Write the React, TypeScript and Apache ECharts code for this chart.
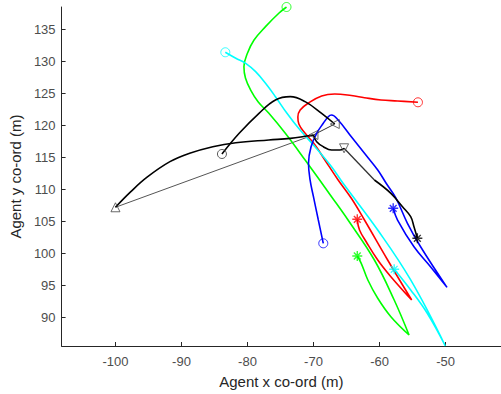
import React, { useEffect, useRef } from "react";
import * as echarts from "echarts";

const xTicks = [-100, -90, -80, -70, -60, -50];
const yTicks = [90, 95, 100, 105, 110, 115, 120, 125, 130, 135];

const redPath: [number, number][] = [
  [-54.18, 123.63], [-57.27, 123.84], [-59.78, 123.99], [-62.28, 124.35], [-64.27, 124.69],
  [-66.78, 124.93], [-68.77, 124.62], [-70.76, 123.52], [-72.02, 122.43], [-72.37, 121.34],
  [-72.22, 120.24], [-71.27, 118.79], [-69.77, 116.96], [-68.28, 114.62], [-66.27, 111.5],
  [-64.27, 108.64], [-62.28, 105.25], [-58.77, 99.01], [-55.13, 92.76], [-58.28, 96.4],
  [-60.27, 99.01], [-62.02, 101.86], [-63.03, 103.69], [-63.37, 105.36],
];

const greenPath: [number, number][] = [
  [-74.09, 138.51], [-75.26, 137.53], [-77.27, 135.44], [-79.01, 133.36], [-80.01, 131.28],
  [-80.54, 129.19], [-80.31, 127.43], [-79.52, 125.55], [-78.37, 123.68], [-76.76, 121.91],
  [-74.27, 118.79], [-71.27, 114.62], [-67.27, 108.89], [-64.77, 105.25], [-60.78, 99.01],
  [-57.78, 92.76], [-55.53, 87.3], [-58.28, 90.15], [-60.27, 93.03], [-61.77, 95.89],
  [-62.77, 98.49], [-63.37, 99.63],
];

const cyanPath: [number, number][] = [
  [-83.36, 131.44], [-81.77, 130.5], [-80.27, 129.72], [-78.77, 128.41], [-77.27, 126.6],
  [-75.77, 124.51], [-74.02, 121.91], [-72.26, 119.57], [-69.78, 116.7], [-67.27, 113.58],
  [-65.52, 110.98], [-60.27, 103.69], [-55.28, 95.89], [-50.03, 85.58], [-52.77, 90.68],
  [-55.28, 94.33], [-57.78, 97.56],
];

const bluePath: [number, number][] = [
  [-68.52, 101.61], [-69.27, 105.25], [-70.01, 108.89], [-70.52, 111.5], [-70.76, 114.11],
  [-70.37, 116.7], [-69.52, 118.79], [-68.52, 120.35], [-67.77, 121.38], [-67.27, 121.65],
  [-66.27, 120.87], [-64.27, 118.26], [-62.28, 115.67], [-60.27, 113.06], [-59.02, 111.03],
  [-57.53, 108.69], [-55.77, 104.74], [-53.78, 101.08], [-49.78, 94.74], [-52.28, 97.96],
  [-54.78, 101.08], [-57.27, 105.25], [-57.93, 107.08],
];

const blackRise: [number, number][] = [
  [-83.87, 115.56], [-81.26, 118.79], [-78.26, 121.91], [-75.77, 123.99], [-73.52, 124.51],
  [-71.27, 123.73], [-68.77, 121.91], [-66.78, 120.24],
];
const blackWest: [number, number][] = [
  [-70.01, 118.53], [-73.5, 118.0], [-76.76, 117.75], [-81.77, 117.32], [-85.26, 116.7],
  [-88.76, 115.67], [-91.75, 114.36], [-95.26, 111.9], [-97.75, 109.6], [-100, 107.24],
];
const blackHook: [number, number][] = [
  [-70.01, 118.53], [-69.52, 117.48], [-68.52, 116.7], [-67.27, 116.18], [-66.03, 116.18],
  [-65.37, 116.45],
];
const blackTail: [number, number][] = [
  [-60.78, 111.5], [-58.28, 109.42], [-56.52, 107.33], [-55.28, 105.77], [-54.78, 104.21],
  [-54.27, 102.4],
];
const grayLinkWest: [number, number][] = [[-100, 107.24], [-70.01, 118.53]];
const grayLinkA: [number, number][] = [[-66.78, 120.24], [-70.01, 118.53]];
const grayLinkD: [number, number][] = [[-65.37, 116.45], [-60.78, 111.5]];

const triangleUp: [number, number][] = [[-100, 107.24]];
const triangleLeft: [number, number][] = [[-66.78, 120.24], [-70.01, 118.53]];
const triangleDown: [number, number][] = [[-65.37, 116.45]];

const ASTERISK = "path://M0 5L10 5M5 0L5 10M1.6 1.6L8.4 8.4M8.4 1.6L1.6 8.4";

export default function App() {
  const ref = useRef<HTMLDivElement>(null);

  useEffect(() => {
    if (!ref.current) return;
    const chart = echarts.init(ref.current, null, { renderer: "svg" });

    const line = (data: [number, number][], color: string, width = 1.6, smooth: number | boolean = 0.4) => ({
      type: "line",
      data,
      showSymbol: false,
      smooth,
      lineStyle: { color, width },
      itemStyle: { color },
      z: 2,
      silent: true,
    });
    const marker = (pt: [number, number], color: string, symbol: string, size = 9, rotate = 0, bw = 1) => ({
      type: "scatter",
      data: [pt],
      symbol,
      symbolSize: size,
      symbolRotate: rotate,
      itemStyle: { color: "rgba(0,0,0,0)", borderColor: color, borderWidth: bw },
      z: 5,
      silent: true,
    });

    const trajectories: [[number, number][], string][] = [
      [redPath, "#ff0000"],
      [greenPath, "#00ff00"],
      [cyanPath, "#00ffff"],
      [bluePath, "#0000ff"],
    ];

    const series: any[] = [];
    series.push(line(grayLinkWest, "#555555", 1, false));
    series.push(line(grayLinkA, "#333333", 1, false));
    series.push(line(grayLinkD, "#333333", 1.3, false));
    for (const [p, c] of trajectories) {
      series.push(line(p, c));
    }
    series.push(line(blackRise, "#000000"));
    series.push(line(blackWest, "#000000"));
    series.push(line(blackHook, "#000000"));
    series.push(line(blackTail, "#000000"));
    for (const [p, c] of trajectories) {
      series.push(marker(p[0], c, "circle", 9));
      series.push(marker(p[p.length - 1], c, ASTERISK, 10, 0, 1.4));
    }
    series.push(marker(blackRise[0], "#333333", "circle", 9));
    series.push(marker(blackTail[blackTail.length - 1], "#000000", ASTERISK, 10, 0, 1.4));
    for (const p of triangleUp) series.push(marker(p, "#444444", "triangle", 9));
    for (const p of triangleLeft) series.push(marker(p, "#444444", "triangle", 9, 90));
    for (const p of triangleDown) series.push(marker(p, "#444444", "triangle", 9, 180));

    const axisCommon = {
      type: "value",
      nameLocation: "middle",
      nameTextStyle: { color: "#262626", fontSize: 15, fontFamily: "Liberation Sans, Arial, sans-serif" },
      axisLine: { show: true, onZero: false, lineStyle: { color: "#262626", width: 1 } },
      axisTick: { show: true, inside: true, length: 4, lineStyle: { color: "#262626" } },
      axisLabel: { color: "#4d4d4d", fontSize: 13, fontFamily: "Liberation Sans, Arial, sans-serif" },
      splitLine: { show: false },
    };

    chart.setOption({
      animation: false,
      grid: { left: 57.3, right: 0, top: 7, bottom: 48 },
      xAxis: {
        ...axisCommon,
        name: "Agent x co-ord (m)",
        nameGap: 28,
        min: -108.16,
        max: -41.6,
        axisTick: { ...axisCommon.axisTick, customValues: xTicks },
        axisLabel: { ...axisCommon.axisLabel, margin: 9, customValues: xTicks },
      },
      yAxis: {
        ...axisCommon,
        name: "Agent y co-ord (m)",
        nameGap: 33,
        min: 85.58,
        max: 138.51,
        axisTick: { ...axisCommon.axisTick, customValues: yTicks },
        axisLabel: { ...axisCommon.axisLabel, margin: 6, customValues: yTicks },
      },
      series,
    });

    return () => chart.dispose();
  }, []);

  return (
    <div
      ref={ref}
      style={{ position: "fixed", left: 0, top: 0, width: 501, height: 394, background: "#fff" }}
    />
  );
}
